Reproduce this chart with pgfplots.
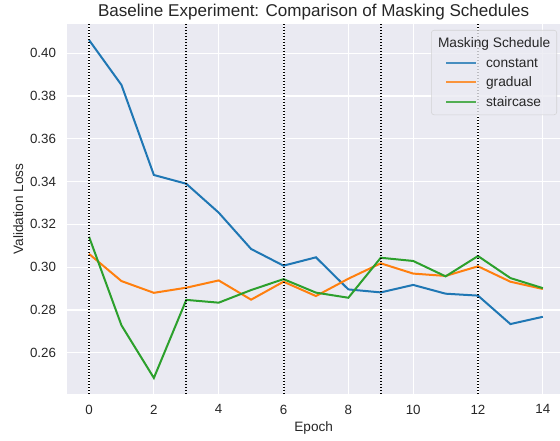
\documentclass[border=0pt]{standalone}
\usepackage{fontspec}
\setmainfont{Liberation Sans}
\usepackage{pgfplots}
\pgfplotsset{compat=1.18}
\definecolor{bg}{HTML}{EAEAF2}
\definecolor{txt}{HTML}{262626}
\definecolor{c1}{HTML}{1F77B4}
\definecolor{c2}{HTML}{FF7F0E}
\definecolor{c3}{HTML}{2CA02C}
\definecolor{legedge}{HTML}{CCCCCC}
\begin{document}
\begin{tikzpicture}
\begin{axis}[name=ax,
  width=369.5pt, height=277.5pt, scale only axis,
  xmin=-0.67, xmax=14.53, ymin=0.2407, ymax=0.4137,
  axis background/.style={fill=bg},
  axis line style={draw=none},
  grid=major, major grid style={white, line width=0.9pt},
  tick style={draw=none},
  xtick={0,2,4,6,8,10,12,14},
  ytick={0.26,0.28,0.30,0.32,0.34,0.36,0.38,0.40},
  yticklabel style={/pgf/number format/fixed, /pgf/number format/precision=2, /pgf/number format/fixed zerofill},
  /pgf/number format/assume math mode=true,
  ticklabel style={font=\fontsize{10}{12}\selectfont, text=txt},
  xticklabel style={yshift=-4.5pt},
  yticklabel style={xshift=-5pt},
  xlabel={Epoch}, ylabel={Validation Loss},
  xlabel style={at={(axis description cs:0.5,-0.0919)}, anchor=center, font=\fontsize{10.2}{12}\selectfont, text=txt},
  ylabel style={at={(axis description cs:-0.0995,0.5)}, anchor=center, font=\fontsize{10.2}{12}\selectfont, text=txt},
  title={Baseline Experiment: Comparison of Masking Schedules},
  title style={at={(axis description cs:0.5,1.0324)}, anchor=center, yshift=-6pt, font=\fontsize{12.8}{15}\selectfont, text=txt},
  legend cell align=left,
  legend image code/.code={\draw[#1] (0pt,0pt) -- (22.5pt,0pt); \path (-6.5pt,0pt) (29pt,0pt);},
  legend style={at={(1,1)}, anchor=north east, xshift=-2.25pt, yshift=-4.5pt,
    fill=bg, fill opacity=0.8, text opacity=1, draw=legedge, draw opacity=0.8,
    rounded corners=2pt, inner xsep=4pt, inner ysep=2.5pt,
    font=\fontsize{10.3}{12}\selectfont, text=txt,
    row sep=0pt, column sep=0pt,
    nodes={inner xsep=0pt, inner ysep=0pt, text height=10.6pt, text depth=4pt}},
]
\addlegendimage{legend image code/.code={%
  \path (-6.5pt,0pt) (29pt,0pt);
  \begin{pgfinterruptboundingbox}
  \node[anchor=west, inner sep=0pt, text height=10.6pt, text depth=4pt, text=txt, font=\fontsize{10.3}{12}\selectfont] at (-6.5pt,0pt) {Masking Schedule};
  \end{pgfinterruptboundingbox}}}
\addlegendentry{\hspace*{49pt}}
\addplot[c1, line width=1.5pt] coordinates {
(0,0.4062)(1,0.3852)(2,0.3431)(3,0.3390)(4,0.3255)(5,0.3085)(6,0.3007)(7,0.3046)
(8,0.2896)(9,0.2882)(10,0.2917)(11,0.2876)(12,0.2867)(13,0.2734)(14,0.2768)};
\addlegendentry{constant}
\addplot[c2, line width=1.5pt] coordinates {
(0,0.3062)(1,0.2935)(2,0.2880)(3,0.2904)(4,0.2938)(5,0.2848)(6,0.2932)(7,0.2865)
(8,0.2946)(9,0.3018)(10,0.2970)(11,0.2959)(12,0.3004)(13,0.2932)(14,0.2898)};
\addlegendentry{gradual}
\addplot[c3, line width=1.5pt] coordinates {
(0,0.3142)(1,0.2728)(2,0.2482)(3,0.2847)(4,0.2834)(5,0.2893)(6,0.2944)(7,0.2881)
(8,0.2857)(9,0.3044)(10,0.3029)(11,0.2957)(12,0.3052)(13,0.2949)(14,0.2902)};
\addlegendentry{staircase}
\addplot[black, line width=1.5pt, dash pattern=on 1.1pt off 1.15pt, forget plot] coordinates {(0,0.2407)(0,0.4137)};
\addplot[black, line width=1.5pt, dash pattern=on 1.1pt off 1.15pt, forget plot] coordinates {(3,0.2407)(3,0.4137)};
\addplot[black, line width=1.5pt, dash pattern=on 1.1pt off 1.15pt, forget plot] coordinates {(6,0.2407)(6,0.4137)};
\addplot[black, line width=1.5pt, dash pattern=on 1.1pt off 1.15pt, forget plot] coordinates {(9,0.2407)(9,0.4137)};
\addplot[black, line width=1.5pt, dash pattern=on 1.1pt off 1.15pt, forget plot] coordinates {(12,0.2407)(12,0.4137)};
\end{axis}
\pgfresetboundingbox
\path[use as bounding box] ([shift={(-50.5pt,-35.25pt)}]ax.south west) rectangle ([shift={(0pt,18pt)}]ax.north east);
\end{tikzpicture}
\end{document}
